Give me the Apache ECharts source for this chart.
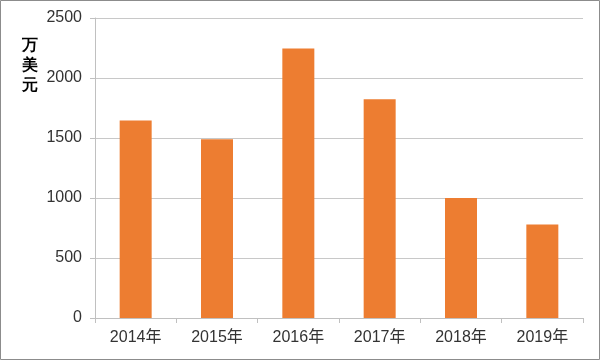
<!DOCTYPE html>
<html>
<head>
<meta charset="utf-8">
<script src="https://cdn.jsdelivr.net/npm/echarts@6/dist/echarts.min.js"></script>
<style>
html,body{margin:0;padding:0;background:#fff;}
#c{width:600px;height:360px;}
</style>
</head>
<body>
<div id="c"></div>
<script>
const categories = ['2014年','2015年','2016年','2017年','2018年','2019年'];
const values = [1645, 1490, 2245, 1823, 1000, 780];
const unitLabel = '万\n美\n元';

const chart = echarts.init(document.getElementById('c'), null, {renderer:'canvas'});
const ff = '"Liberation Sans", "Noto Sans CJK SC", sans-serif';
chart.setOption({
  animation:false,
  backgroundColor:'#fff',
  graphic:[{
    type:'rect', shape:{x:0.5,y:0.5,width:599,height:359},
    style:{fill:'none', stroke:'#8c8c8c', lineWidth:1}, silent:true, z:100
  },{
    type:'text', left:22, top:36, silent:true,
    style:{text:unitLabel, fontSize:16, fontWeight:'bold', fill:'#000', lineHeight:20,
      font:'bold 16px "Noto Sans CJK SC", sans-serif'}
  }],
  grid:{left:95, right:17, top:18, bottom:42, containLabel:false},
  xAxis:{
    type:'category', data:categories,
    axisLine:{show:true, lineStyle:{color:'#c0c0c0', width:1}},
    axisTick:{show:true, length:5, lineStyle:{color:'#c0c0c0'}},
    axisLabel:{color:'#333', fontSize:16, margin:12, fontFamily:ff}
  },
  yAxis:{
    type:'value', min:0, max:2500, interval:500,
    axisLine:{show:true, lineStyle:{color:'#c0c0c0', width:1}},
    axisTick:{show:true, length:5, lineStyle:{color:'#c0c0c0'}},
    splitLine:{show:true, lineStyle:{color:'#c8c8c8', width:1}},
    axisLabel:{color:'#333', fontSize:16, margin:13, fontFamily:ff, formatter:function(v){return String(v);}}
  },
  series:[{
    type:'bar', data:values, barWidth:32,
    itemStyle:{color:'#ED7D31'}
  }]
});
</script>
</body>
</html>
